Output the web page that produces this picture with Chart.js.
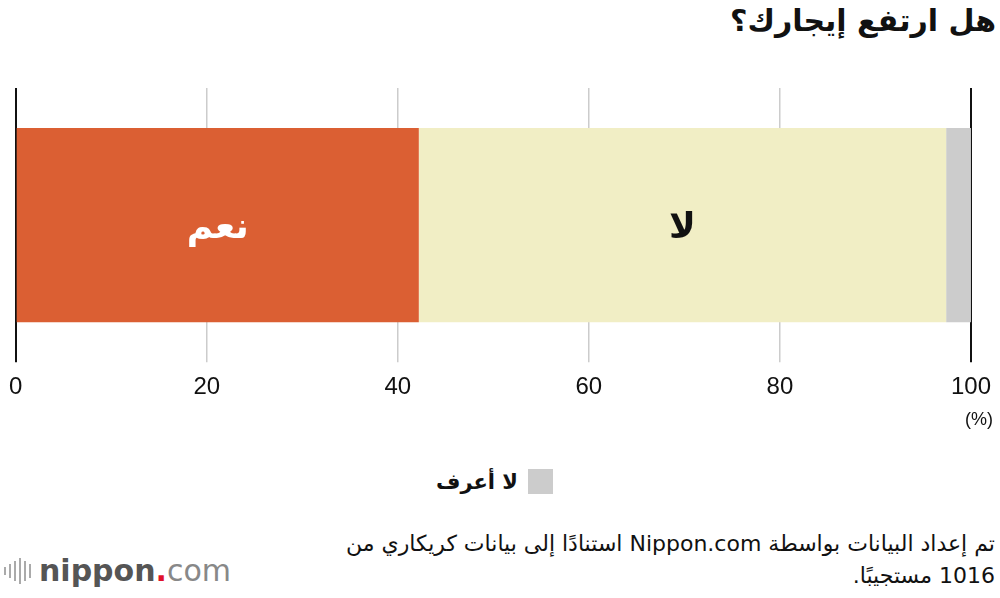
<!DOCTYPE html>
<html>
<head>
<meta charset="utf-8">
<script src="https://cdn.jsdelivr.net/npm/chart.js@4"></script>
<style>
  body { margin: 0; width: 1000px; height: 598px; background: #fff; position: relative; overflow: hidden; font-family: "DejaVu Sans", sans-serif; }
  #title { position: absolute; right: 4px; top: 3px; font-size: 30px; font-weight: bold; direction: rtl; color: #111; }
  #wrap { position: absolute; left: -2px; top: 0; width: 1004px; height: 425px; }
  #unit { position: absolute; right: 7px; top: 409px; font-family: "Liberation Sans", sans-serif; font-size: 18px; color: #111; }
  #legend { position: absolute; left: 436px; top: 469px; direction: rtl; font-size: 21px; font-weight: bold; color: #111; display: flex; align-items: center; }
  #legend span.box { display: inline-block; width: 25px; height: 25px; background: #cccccc; margin-left: 10px; }
  #note { position: absolute; right: 5px; top: 528px; width: 700px; direction: rtl; text-align: right; font-size: 22px; line-height: 32px; color: #111; }
  #logo { position: absolute; left: 4px; top: 553px; font-family: "DejaVu Sans", sans-serif; font-size: 30px; color: #555; display: flex; align-items: center; }
  #logo .bars { display: inline-flex; gap: 3px; margin-right: 8px; align-items: center; }
  #logo .bars i { display: inline-block; width: 2px; background: #aaa; }
  #logo b { color: #555; font-weight: 600; }
  #logo .dot { color: #e0102a; font-weight: bold; }
  #logo .com { color: #888; font-weight: normal; }
</style>
</head>
<body>
<div id="title">هل ارتفع إيجارك؟</div>
<div id="wrap"><canvas id="chart"></canvas></div>
<div id="unit">(%)</div>
<div id="legend"><span class="box"></span><span>لا أعرف</span></div>
<div id="note">تم إعداد البيانات بواسطة Nippon.com استنادًا إلى بيانات كريكاري من 1016 مستجيبًا.</div>
<div id="logo"><span class="bars"><i style="height:8px"></i><i style="height:14px"></i><i style="height:20px"></i><i style="height:26px"></i><i style="height:20px"></i><i style="height:14px"></i></span><b>nippon</b><span class="dot">.</span><span class="com">com</span></div>
<script>
const categories = [''];
const seriesNames = ['نعم', 'لا', 'لا أعرف'];
const seriesValues = [[42.2], [55.2], [2.6]];
const seriesColors = ['#db5f33', '#f1eec5', '#cccccc'];
const labelColors = ['#ffffff', '#111111', null];
const xTicks = [0, 20, 40, 60, 80, 100];

const barLabels = {
  id: 'barLabels',
  afterDatasetsDraw(chart) {
    const ctx = chart.ctx;
    chart.data.datasets.forEach((ds, i) => {
      if (!labelColors[i]) return;
      const bar = chart.getDatasetMeta(i).data[0];
      ctx.save();
      ctx.fillStyle = labelColors[i];
      ctx.font = 'bold 36px "DejaVu Sans", sans-serif';
      ctx.textAlign = 'center';
      ctx.textBaseline = 'middle';
      ctx.fillText(ds.label, (bar.x + bar.base) / 2, bar.y + 4);
      ctx.restore();
    });
  }
};

new Chart(document.getElementById('chart'), {
  type: 'bar',
  data: {
    labels: categories,
    datasets: seriesNames.map((name, i) => ({
      label: name,
      data: seriesValues[i],
      backgroundColor: seriesColors[i],
      borderWidth: 0,
      categoryPercentage: 1,
      barPercentage: 0.708
    }))
  },
  options: {
    indexAxis: 'y',
    responsive: true,
    maintainAspectRatio: false,
    animation: false,
    layout: { padding: { top: 88, left: 10, right: 23, bottom: 12 } },
    plugins: { legend: { display: false }, tooltip: { enabled: false } },
    scales: {
      x: {
        stacked: true,
        min: 0,
        max: 100,
        afterBuildTicks: axis => { axis.ticks = xTicks.map(v => ({ value: v })); },
        border: { display: false },
        grid: {
          color: c => (c.tick && (c.tick.value === 0 || c.tick.value === 100)) ? '#111111' : '#cccccc',
          lineWidth: c => (c.tick && (c.tick.value === 0 || c.tick.value === 100)) ? 2 : 1.5,
          tickLength: 0
        },
        ticks: { color: '#111', padding: 11, font: { family: '"Liberation Sans", sans-serif', size: 24 } }
      },
      y: {
        stacked: true,
        display: false
      }
    }
  },
  plugins: [barLabels]
});
</script>
</body>
</html>
